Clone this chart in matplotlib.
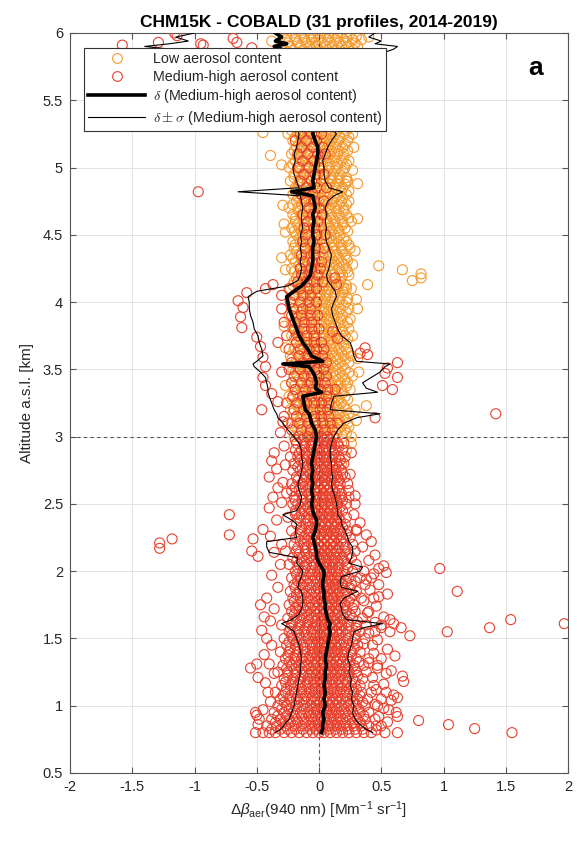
import matplotlib
matplotlib.use("Agg")  # no display
import matplotlib.pyplot as plt
from matplotlib.lines import Line2D

plt.rcParams["font.family"] = ["Liberation Sans", "DejaVu Sans"]
plt.rcParams["mathtext.fontset"] = "custom"
plt.rcParams["mathtext.rm"] = "Liberation Sans"
plt.rcParams["mathtext.it"] = "Liberation Sans:italic"
plt.rcParams["mathtext.bf"] = "Liberation Sans:bold"

ORANGE = "#F59A2E"
RED = "#E8402C"
AXIS_GREY = "#555555"
TEXT_DARK = "#262626"

# ---- mean profile and +/- sigma (medium-high aerosol content), km / Mm-1 sr-1
PROF_ALT = [0.80, 0.83, 0.86, 0.90, 0.95, 1.00, 1.05, 1.10, 1.15, 1.20, 1.25, 1.30,
            1.35, 1.40, 1.45, 1.50, 1.55, 1.58, 1.61, 1.64, 1.68, 1.72, 1.76, 1.80,
            1.85, 1.88, 1.92, 1.96, 2.00, 2.03, 2.06, 2.10, 2.14, 2.18, 2.22, 2.25,
            2.30, 2.35, 2.38, 2.42, 2.45, 2.50, 2.55, 2.60, 2.65, 2.70, 2.75, 2.80,
            2.85, 2.90, 2.95, 3.00, 3.05, 3.10, 3.14, 3.17, 3.20, 3.25, 3.30, 3.33,
            3.36, 3.40, 3.44, 3.48, 3.52, 3.54, 3.56, 3.60, 3.65, 3.70, 3.75, 3.80,
            3.85, 3.90, 3.95, 4.00, 4.04, 4.08, 4.12, 4.16, 4.20, 4.25, 4.30, 4.35,
            4.40, 4.45, 4.50, 4.55, 4.60, 4.65, 4.70, 4.75, 4.79, 4.82, 4.85, 4.90,
            4.95, 5.00, 5.05, 5.10, 5.15, 5.20, 5.25, 5.30, 5.40, 5.50, 5.60, 5.70,
            5.80, 5.88, 5.90, 5.92, 5.94, 5.97, 6.00]
PROF_DELTA = [0.02, 0.03, 0.03, 0.04, 0.03, 0.05, 0.04, 0.05, 0.04, 0.05, 0.05, 0.06,
              0.05, 0.06, 0.07, 0.08, 0.09, 0.08, 0.09, 0.07, 0.06, 0.05, 0.05, 0.04,
              0.04, 0.03, 0.03, 0.04, 0.04, 0.02, 0.00, -0.02, -0.02, -0.03, -0.04, -0.05,
              -0.03, -0.02, -0.02, -0.04, -0.05, -0.06, -0.05, -0.06, -0.05, -0.06, -0.05, -0.06,
              -0.05, -0.04, -0.03, -0.02, -0.03, -0.06, -0.07, -0.08, -0.11, -0.12, -0.13, 0.02,
              -0.03, -0.02, -0.03, -0.05, -0.08, -0.29, 0.03, -0.06, -0.09, -0.13, -0.16, -0.18,
              -0.20, -0.22, -0.24, -0.25, -0.26, -0.20, -0.14, -0.10, -0.07, -0.06, -0.05, -0.05,
              -0.05, -0.04, -0.05, -0.05, -0.04, -0.05, -0.03, -0.04, -0.05, -0.22, -0.04, -0.05,
              -0.04, -0.03, -0.02, -0.01, -0.01, -0.03, -0.05, -0.04, -0.05, -0.06, -0.10, -0.15,
              -0.25, -0.30, -0.36, -0.26, -0.35, -0.30, -0.35]
PROF_LOWER = [-0.35, -0.30, -0.28, -0.24, -0.22, -0.20, -0.19, -0.18, -0.17, -0.16, -0.15, -0.15,
              -0.14, -0.15, -0.16, -0.18, -0.20, -0.24, -0.30, -0.22, -0.16, -0.14, -0.13, -0.13,
              -0.14, -0.17, -0.16, -0.14, -0.13, -0.15, -0.18, -0.17, -0.40, -0.42, -0.42, -0.18,
              -0.19, -0.18, -0.22, -0.29, -0.18, -0.15, -0.14, -0.16, -0.17, -0.15, -0.14, -0.13,
              -0.14, -0.14, -0.16, -0.20, -0.25, -0.29, -0.33, -0.34, -0.36, -0.38, -0.40, -0.41,
              -0.41, -0.42, -0.43, -0.47, -0.52, -0.53, -0.50, -0.45, -0.46, -0.48, -0.49, -0.52,
              -0.53, -0.55, -0.56, -0.56, -0.57, -0.50, -0.25, -0.17, -0.15, -0.14, -0.15, -0.14,
              -0.15, -0.14, -0.15, -0.13, -0.14, -0.14, -0.13, -0.14, -0.15, -0.65, -0.16, -0.18,
              -0.20, -0.21, -0.19, -0.20, -0.18, -0.17, -0.16, -0.18, -0.20, -0.22, -0.35, -0.50,
              -0.80, -1.20, -1.40, -1.20, -1.05, -1.15, -1.00]
PROF_UPPER = [0.43, 0.37, 0.33, 0.29, 0.27, 0.28, 0.26, 0.27, 0.25, 0.26, 0.24, 0.25,
              0.23, 0.24, 0.26, 0.27, 0.28, 0.36, 0.51, 0.22, 0.19, 0.18, 0.17, 0.20,
              0.31, 0.18, 0.17, 0.18, 0.33, 0.35, 0.24, 0.26, 0.27, 0.27, 0.24, 0.23,
              0.21, 0.18, 0.18, 0.15, 0.15, 0.14, 0.13, 0.11, 0.10, 0.11, 0.10, 0.10,
              0.09, 0.09, 0.10, 0.12, 0.15, 0.20, 0.30, 0.49, 0.09, 0.10, 0.12, 0.47,
              0.38, 0.35, 0.42, 0.49, 0.53, 0.57, 0.30, 0.28, 0.27, 0.25, 0.18, 0.15,
              0.13, 0.11, 0.10, 0.12, 0.14, 0.13, 0.10, 0.07, 0.06, 0.08, 0.09, 0.10,
              0.08, 0.06, 0.05, 0.06, 0.05, 0.06, 0.05, 0.07, 0.12, 0.19, 0.08, 0.05,
              0.04, 0.04, 0.03, 0.05, 0.07, 0.10, 0.14, 0.10, 0.12, 0.14, 0.15, 0.20,
              0.35, 0.60, 0.63, 0.45, 0.50, 0.40, 0.45]

# ---- individual points, one row per altitude level (x in 0.01 Mm-1 sr-1)
RED_ROWS_LOW = [
    (0.80, [-45, -40, -35, -28, -22, -16, -10, -5, 0, 4, 9, 14, 19, 24, 30, 36, 42]),
    (0.85, [-42, -34, -27, -20, -14, -8, -3, 2, 7, 12, 17, 22, 28, 34, 40, 46]),
    (0.90, [-38, -31, -24, -18, -12, -6, -1, 4, 9, 14, 19, 25, 31, 37, 45]),
    (0.95, [-36, -28, -21, -15, -9, -4, 1, 6, 11, 16, 21, 27, 33, 40]),
    (1.00, [-33, -26, -19, -13, -7, -2, 3, 8, 13, 18, 24, 30, 37, 47]),
    (1.05, [-31, -24, -18, -12, -6, -1, 4, 9, 14, 19, 25, 31, 39]),
    (1.10, [-35, -27, -20, -14, -8, -3, 2, 7, 12, 17, 22, 28, 34, 42]),
    (1.15, [-30, -23, -17, -11, -5, 0, 5, 10, 15, 20, 26, 33, 44]),
    (1.20, [-28, -21, -15, -9, -4, 1, 6, 11, 16, 21, 27, 35]),
    (1.25, [-33, -25, -18, -12, -6, -1, 4, 9, 14, 19, 24, 30, 38]),
    (1.30, [-29, -22, -16, -10, -4, 1, 6, 11, 16, 22, 28, 36, 47]),
    (1.35, [-27, -20, -14, -8, -3, 2, 7, 12, 17, 23, 30, 40]),
    (1.40, [-31, -24, -17, -11, -5, 0, 5, 10, 15, 20, 26, 33]),
    (1.45, [-26, -19, -13, -7, -2, 3, 8, 13, 18, 24, 31, 43]),
    (1.50, [-28, -21, -15, -9, -3, 2, 7, 12, 17, 23, 29, 37]),
    (1.55, [-24, -18, -12, -6, -1, 4, 9, 14, 19, 25, 33, 45]),
    (1.60, [-30, -22, -15, -9, -3, 2, 8, 13, 18, 24, 30, 38, 50]),
    (1.65, [-25, -18, -12, -6, -1, 4, 9, 14, 20, 27, 35]),
    (1.70, [-22, -16, -10, -4, 1, 6, 11, 16, 22, 29, 40]),
    (1.75, [-24, -17, -11, -5, 0, 5, 10, 15, 21, 28]),
    (1.80, [-21, -15, -9, -3, 2, 7, 12, 18, 25, 34, 44]),
    (1.85, [-23, -16, -10, -4, 1, 6, 11, 16, 22, 30]),
    (1.90, [-20, -14, -8, -2, 3, 8, 13, 19, 26, 37]),
    (1.95, [-22, -15, -9, -3, 2, 7, 12, 17, 24, 33, 42]),
    (2.00, [-19, -13, -7, -1, 4, 9, 14, 20, 27, 36]),
    (2.05, [-24, -16, -10, -4, 1, 6, 11, 16, 22, 30]),
    (2.10, [-21, -14, -8, -2, 3, 8, 13, 19, 26]),
    (2.15, [-27, -18, -11, -5, 0, 5, 10, 15, 21, 29]),
    (2.20, [-30, -20, -12, -6, -1, 4, 9, 14, 20, 27]),
    (2.25, [-19, -12, -6, -1, 4, 9, 14, 19, 25]),
    (2.30, [-22, -14, -8, -3, 2, 7, 12, 17, 23, 30]),
    (2.35, [-18, -11, -5, 0, 5, 10, 15, 21]),
    (2.40, [-25, -16, -10, -4, 1, 6, 11, 16, 22]),
    (2.45, [-19, -12, -6, -1, 4, 9, 14, 19]),
    (2.50, [-21, -17, -11, -5, 0, 5, 10, 15, 22, 29]),
    (2.55, [-20, -13, -7, -2, 3, 8, 13, 18, 24]),
    (2.60, [-22, -16, -10, -4, 1, 6, 11, 16, 24]),
    (2.65, [-22, -14, -8, -3, 2, 7, 12, 17, 23]),
    (2.70, [-18, -11, -5, 0, 5, 10, 15, 21]),
    (2.75, [-21, -15, -9, -3, 2, 7, 12, 18]),
    (2.80, [-20, -12, -6, -1, 4, 9, 14, 20]),
    (2.85, [-23, -17, -10, -4, 1, 6, 11, 16, 21]),
    (2.90, [-19, -14, -8, -2, 3, 8, 13, 19]),
    (2.95, [-18, -11, -5, 0, 5, 10, 15, 20]),
    (3.00, [-16, -9, -3, 2, 7, 12]),
]

# in-between levels of the dense lower core
RED_ROWS_MID = [
    (0.825, [-38, -31, -25, -19, -13, -7, -2, 3, 8, 13, 18, 23, 29, 35]),
    (0.875, [-35, -29, -23, -17, -11, -5, 0, 5, 10, 15, 21, 27, 33]),
    (0.925, [-33, -26, -20, -14, -8, -3, 2, 7, 12, 17, 23, 29, 36]),
    (0.975, [-30, -24, -18, -12, -6, -1, 4, 9, 14, 20, 26, 32]),
    (1.025, [-28, -22, -16, -10, -4, 1, 6, 11, 16, 22, 28, 35]),
    (1.075, [-29, -23, -17, -11, -5, 0, 5, 10, 15, 21, 27, 33]),
    (1.125, [-26, -20, -14, -8, -3, 2, 7, 12, 18, 24, 30]),
    (1.175, [-27, -21, -15, -9, -4, 1, 6, 11, 16, 22, 29]),
    (1.225, [-25, -19, -13, -7, -2, 3, 8, 13, 18, 24, 31]),
    (1.275, [-26, -20, -14, -8, -3, 2, 7, 12, 17, 23, 29]),
    (1.325, [-24, -18, -12, -6, -1, 4, 9, 14, 19, 25, 32]),
    (1.375, [-25, -19, -13, -7, -2, 3, 8, 13, 19, 26]),
    (1.425, [-23, -17, -11, -5, 0, 5, 10, 15, 21, 28]),
    (1.475, [-24, -18, -12, -6, -1, 4, 9, 14, 20, 27]),
    (1.525, [-22, -16, -10, -4, 1, 6, 11, 16, 22, 29]),
    (1.575, [-23, -17, -11, -5, 0, 5, 10, 16, 22, 30]),
    (1.625, [-21, -15, -9, -3, 2, 7, 12, 17, 23, 31]),
    (1.675, [-20, -14, -8, -2, 3, 8, 13, 19, 25]),
    (1.725, [-19, -13, -7, -1, 4, 9, 14, 20, 27]),
    (1.775, [-20, -14, -8, -2, 3, 8, 13, 18, 24]),
    (1.825, [-18, -12, -6, 0, 5, 10, 15, 21, 28]),
    (1.875, [-19, -13, -7, -1, 4, 9, 14, 19, 25]),
    (1.925, [-17, -11, -5, 1, 6, 11, 16, 22, 29]),
    (1.975, [-18, -12, -6, 0, 5, 10, 15, 21]),
    (2.025, [-17, -11, -5, 1, 6, 11, 16, 23]),
    (2.075, [-18, -12, -6, 0, 5, 10, 15, 20]),
    (2.125, [-16, -10, -4, 2, 7, 12, 17, 24]),
    (2.175, [-17, -11, -5, 1, 6, 11, 16, 21]),
    (2.225, [-15, -9, -3, 2, 7, 12, 18]),
    (2.275, [-16, -10, -4, 1, 6, 11, 16, 22]),
    (2.325, [-14, -8, -2, 3, 8, 13, 19]),
    (2.375, [-15, -9, -3, 2, 7, 12, 17]),
    (2.425, [-19, -14, -8, -2, 3, 8, 14]),
    (2.475, [-15, -9, -3, 2, 7, 12, 17]),
    (2.525, [-19, -13, -7, -1, 4, 9, 14, 19]),
    (2.575, [-14, -8, -2, 3, 8, 13, 18]),
    (2.625, [-19, -13, -7, -1, 4, 9, 15]),
    (2.675, [-17, -12, -6, 0, 5, 10, 16]),
    (2.725, [-13, -7, -1, 4, 9, 14, 19]),
    (2.775, [-17, -11, -5, 1, 6, 11, 16]),
    (2.825, [-15, -12, -6, 0, 5, 10, 17]),
    (2.875, [-16, -11, -5, 1, 6, 12]),
    (2.925, [-12, -6, 0, 5, 10, 16]),
    (2.975, [-19, -13, -7, -1, 4, 9]),
]

RED_ROWS_HIGH = [
    (3.05, [-22, -14, -7, -1, 5, 11]),
    (3.10, [-25, -16, -9, -3, 3, 9, 15]),
    (3.15, [-28, -18, -10, -4, 2, 8]),
    (3.20, [-20, -12, -5, 1, 7]),
    (3.25, [-26, -17, -10, -4, 2, 8]),
    (3.30, [-21, -13, -6, 0, 6]),
    (3.35, [-19, -11, -5, 1, 7, 13]),
    (3.40, [-22, -14, -7, -1, 5]),
    (3.45, [-20, -12, -6, 0, 6]),
    (3.50, [-24, -15, -8, -2, 4]),
    (3.55, [-22, -13, -6, 0, 6]),
    (3.60, [-16, -9, -3, 3]),
    (3.65, [-24, -15, -8, -2, 4]),
    (3.70, [-18, -10, -4, 2]),
    (3.75, [-26, -17, -10, -4]),
    (3.80, [-20, -12, -6, 0]),
    (3.85, [-28, -19, -12, -6]),
    (3.90, [-22, -14, -7, -1]),
    (3.95, [-30, -21, -13, -7]),
    (4.00, [-23, -15, -8, -2]),
    (4.05, [-30, -20, -13, -7]),
    (4.10, [-24, -15, -8, -2]),
    (4.15, [-17, -10, -4, 3]),
    (4.20, [-14, -8, -1]),
    (4.25, [-15, -6, 1]),
    (4.30, [-12, -5, 2]),
    (4.35, [-14, -4]),
    (4.40, [-11, -3, 4]),
    (4.45, [-13, -5]),
    (4.50, [-10, -2, 5]),
    (4.55, [-12, -4]),
    (4.60, [-9, -1]),
    (4.65, [-13, -5, 3]),
    (4.70, [-8, 0]),
    (4.75, [-11, -4, 4]),
    (4.80, [-14, -5]),
    (4.85, [-10, -2, 6]),
    (4.90, [-15, -6]),
    (4.95, [-12, -3, 4]),
    (5.00, [-16, -8, 0]),
    (5.05, [-13, -4]),
    (5.10, [-17, -9, -1, 5]),
    (5.15, [-14, -5, 3]),
    (5.20, [-19, -10, -2]),
    (5.25, [-15, -6, 2]),
]

ORANGE_ROWS_LOW = [
    (1.30, [-2, 9]), (1.40, [3, 12]), (1.50, [0, 10]), (1.60, [5, 14]),
    (1.70, [-3, 8]), (1.80, [2, 11]), (1.90, [6, 15]), (2.00, [-1, 9]),
    (2.10, [4, 13]), (2.20, [0, 10]), (2.30, [5, 12]), (2.40, [-4, 8]),
    (2.50, [2, 11]), (2.60, [-2, 7]), (2.70, [3, 12]), (2.80, [-1, 9, 18]),
    (2.90, [4, 13, 22]), (2.95, [-6, 10, 26]),
]

ORANGE_ROWS = [
    (3.00, [-20, -12, -7, -1, 6, 11, 19, 26]),
    (3.05, [-17, -10, -4, 2, 8, 15, 21]),
    (3.10, [-22, -15, -8, -3, 4, 10, 17, 23]),
    (3.15, [-18, -13, -5, 1, 7, 13, 20]),
    (3.20, [-23, -16, -9, -2, 3, 9, 16, 22, 29]),
    (3.25, [-19, -12, -6, 0, 6, 12, 18]),
    (3.30, [-24, -15, -10, -4, 2, 9, 14, 21]),
    (3.35, [-20, -13, -6, 1, 7, 11, 18, 25]),
    (3.40, [-22, -14, -8, -3, 4, 10, 17, 23]),
    (3.45, [-17, -11, -5, 0, 5, 13, 19, 27]),
    (3.50, [-21, -16, -9, -2, 3, 8, 15, 21]),
    (3.55, [-19, -12, -6, -1, 6, 11, 17, 24]),
    (3.60, [-23, -15, -10, -4, 2, 7, 13, 20, 26]),
    (3.65, [-20, -13, -7, -1, 4, 10, 16, 22]),
    (3.70, [-18, -11, -6, 1, 7, 12, 19]),
    (3.75, [-22, -16, -9, -3, 3, 9, 14, 21, 27]),
    (3.80, [-19, -12, -5, 0, 6, 11, 18, 24]),
    (3.85, [-21, -14, -8, -2, 4, 10, 16, 23]),
    (3.90, [-24, -17, -10, -5, 2, 8, 13, 19]),
    (3.95, [-18, -13, -6, 0, 5, 11, 17, 24]),
    (4.00, [-22, -15, -9, -2, 3, 9, 16, 22]),
    (4.05, [-19, -11, -6, 1, 6, 12, 18]),
    (4.10, [-23, -16, -9, -4, 3, 8, 14, 20, 26]),
    (4.15, [-20, -14, -7, -1, 5, 10, 17]),
    (4.20, [-17, -12, -5, 1, 6, 12, 19, 24]),
    (4.25, [-22, -15, -8, -2, 4, 11, 16, 22]),
    (4.30, [-19, -13, -6, 0, 7, 12, 18]),
    (4.35, [-23, -16, -10, -3, 3, 9, 14, 21]),
    (4.40, [-20, -12, -7, 0, 5, 11, 18, 25]),
    (4.45, [-21, -15, -8, -2, 4, 10, 16, 22]),
    (4.50, [-18, -13, -6, -1, 6, 12, 17]),
    (4.55, [-22, -16, -9, -3, 2, 9, 15, 21]),
    (4.60, [-19, -12, -5, 1, 7, 13, 19, 26]),
    (4.65, [-21, -14, -8, -2, 3, 10, 16, 22]),
    (4.70, [-24, -17, -11, -4, 2, 8, 13, 20]),
    (4.75, [-18, -12, -6, 0, 6, 11, 18, 24]),
    (4.80, [-21, -15, -8, -3, 4, 9, 15, 22]),
    (4.85, [-19, -11, -5, 1, 7, 13, 19]),
    (4.90, [-23, -16, -9, -2, 3, 10, 16, 23]),
    (4.95, [-20, -13, -7, -1, 5, 11, 17]),
    (5.00, [-24, -17, -10, -4, 2, 8, 14, 21]),
    (5.05, [-19, -13, -6, 0, 6, 12, 18, 24]),
    (5.10, [-22, -15, -9, -3, 3, 9, 15, 20]),
    (5.15, [-18, -12, -5, 1, 7, 13, 19]),
    (5.20, [-21, -14, -8, -2, 4, 10, 16, 23]),
    (5.25, [-25, -17, -11, -4, 2, 8, 13, 20, 27]),
    (5.30, [-20, -13, -7, -1, 5, 11, 18]),
    (5.40, [-22, -15, -8, -2, 4, 10, 17]),
    (5.50, [-21, -14, -8, -1, 5, 12, 19]),
    (5.60, [-23, -16, -9, -3, 3, 10, 16]),
    (5.70, [-22, -15, -8, -2, 4, 11, 18]),
    (5.80, [-24, -17, -10, -3, 3, 10, 17, 24]),
    (5.85, [-26, -18, -11, -4, 2, 9, 16, 23]),
    (5.90, [-30, -23, -15, -8, -2, 5, 11, 18, 24, 31]),
    (5.95, [-27, -19, -12, -6, 0, 7, 13, 20, 27, 34]),
    (6.00, [-29, -21, -14, -7, -1, 5, 12, 18, 25]),
]

# in-between levels of the dense upper core
ORANGE_ROWS_MID = [
    (3.025, [-16, -9, -4, 3, 9, 14, 22]),
    (3.075, [-20, -13, -7, -1, 5, 12, 18, 24]),
    (3.125, [-15, -10, -3, 3, 10, 16, 21]),
    (3.175, [-21, -14, -8, -1, 5, 11, 17, 24]),
    (3.225, [-17, -11, -4, 2, 8, 14, 20]),
    (3.275, [-22, -13, -8, -2, 4, 10, 16, 23]),
    (3.325, [-18, -12, -5, 1, 7, 13, 19]),
    (3.375, [-20, -15, -9, -2, 3, 9, 15, 22]),
    (3.425, [-16, -10, -4, 3, 8, 15, 21]),
    (3.475, [-19, -13, -7, -1, 6, 11, 17, 24]),
    (3.525, [-17, -11, -5, 1, 7, 13, 19]),
    (3.575, [-22, -15, -9, -3, 3, 9, 15, 21]),
    (3.625, [-18, -12, -6, 0, 6, 11, 18, 23]),
    (3.675, [-16, -9, -3, 3, 9, 14, 20]),
    (3.725, [-20, -14, -8, -2, 4, 10, 17, 23]),
    (3.775, [-17, -10, -4, 2, 8, 14, 19]),
    (3.825, [-22, -16, -10, -3, 2, 8, 13, 20]),
    (3.875, [-18, -12, -5, 1, 7, 12, 18, 25]),
    (3.925, [-20, -14, -8, -2, 4, 10, 16, 22]),
    (3.975, [-16, -10, -4, 2, 8, 13, 20]),
    (4.025, [-20, -13, -7, -1, 5, 11, 17, 23]),
    (4.075, [-17, -11, -5, 1, 7, 13, 20]),
    (4.125, [-21, -15, -8, -2, 4, 10, 16, 22]),
    (4.175, [-18, -12, -6, 0, 6, 12, 18]),
    (4.225, [-20, -13, -7, -1, 5, 10, 17, 23]),
    (4.275, [-16, -10, -4, 2, 8, 14, 20]),
    (4.325, [-21, -14, -8, -2, 4, 10, 16, 22]),
    (4.375, [-18, -11, -5, 1, 7, 13, 19]),
    (4.425, [-19, -13, -7, -1, 5, 12, 18, 24]),
    (4.475, [-16, -10, -4, 2, 8, 14, 20]),
    (4.525, [-20, -14, -8, -2, 4, 10, 16, 23]),
    (4.575, [-17, -11, -5, 1, 7, 12, 19]),
    (4.625, [-19, -13, -7, -1, 5, 11, 17, 24]),
    (4.675, [-16, -10, -4, 2, 8, 14, 20]),
    (4.725, [-21, -14, -8, -2, 4, 10, 16, 22]),
    (4.775, [-17, -11, -5, 1, 7, 13, 19]),
    (4.825, [-19, -13, -7, -1, 5, 11, 18, 24]),
    (4.875, [-16, -10, -4, 2, 8, 14, 21]),
    (4.925, [-20, -14, -8, -2, 4, 10, 16, 22]),
    (4.975, [-17, -11, -5, 1, 7, 13, 19]),
    (5.025, [-21, -15, -9, -3, 3, 9, 15, 22]),
    (5.075, [-17, -11, -5, 1, 7, 13, 20]),
    (5.125, [-20, -14, -8, -2, 4, 10, 16, 23]),
    (5.175, [-16, -10, -4, 2, 8, 14, 21]),
    (5.225, [-19, -13, -7, -1, 5, 11, 17, 24]),
    (5.275, [-22, -15, -9, -3, 3, 9, 15, 22]),
    (5.875, [-28, -21, -13, -6, 0, 7, 14, 21, 28]),
    (5.925, [-25, -17, -10, -3, 3, 9, 16, 22, 29]),
    (5.975, [-26, -19, -12, -5, 1, 8, 15, 22, 30]),
]

# ---- scattered points away from the core: (altitude km, value)
RED_SCATTER = [
    # far left, 0.8-2.5 km
    (2.21, -1.28), (2.17, -1.28), (2.24, -1.18), (2.42, -0.72), (2.27, -0.72),
    (2.24, -0.53), (2.15, -0.54), (2.11, -0.49), (1.75, -0.47), (1.28, -0.55),
    (1.31, -0.50), (1.21, -0.49), (0.95, -0.51), (0.93, -0.50), (0.86, -0.49),
    (0.80, -0.51),
    # left edge of the core
    (2.88, -0.36), (2.82, -0.38), (2.76, -0.34), (2.70, -0.40), (2.62, -0.33),
    (2.55, -0.37), (2.47, -0.40), (2.38, -0.34), (2.31, -0.45), (2.26, -0.39),
    (2.14, -0.36), (2.05, -0.31), (1.97, -0.38), (1.88, -0.33), (1.80, -0.42),
    (1.72, -0.36), (1.66, -0.44), (1.63, -0.39), (1.56, -0.46), (1.50, -0.42),
    (1.45, -0.38), (1.38, -0.44), (1.31, -0.40), (1.24, -0.36), (1.17, -0.43),
    (1.10, -0.41), (1.03, -0.39), (0.97, -0.45), (0.90, -0.48),
    (2.93, -0.28), (2.79, -0.27), (2.66, -0.29), (2.58, -0.26), (2.51, -0.30),
    # right edge of the core
    (2.42, 0.28), (2.36, 0.33), (2.31, 0.30), (2.27, 0.38), (2.22, 0.42),
    (2.18, 0.35), (2.12, 0.45), (2.08, 0.40), (2.04, 0.52), (1.98, 0.44),
    (1.94, 0.38), (1.90, 0.48), (1.86, 0.41), (1.83, 0.55), (1.78, 0.36),
    (1.74, 0.46), (1.69, 0.39), (1.66, 0.52), (1.62, 0.45), (1.58, 0.50),
    (1.54, 0.40), (1.49, 0.47), (1.46, 0.36), (1.42, 0.55), (1.39, 0.44),
    (1.35, 0.50), (1.32, 0.40), (1.28, 0.47), (1.26, 0.58), (1.21, 0.43),
    (1.16, 0.52), (1.12, 0.46), (1.08, 0.60), (1.05, 0.50), (1.01, 0.45),
    (0.98, 0.52), (0.95, 0.62), (0.92, 0.48), (0.88, 0.55), (0.85, 0.50),
    (0.82, 0.46), (2.88, 0.26), (2.72, 0.25), (2.56, 0.29),
    # far right, 0.8-2.1 km
    (2.02, 0.97), (1.85, 1.11), (1.64, 1.54), (1.58, 1.37), (1.61, 1.97),
    (1.55, 1.03), (1.52, 0.73), (1.58, 0.66), (1.64, 0.57), (1.61, 0.60),
    (1.55, 0.57), (1.99, 0.54), (2.02, 0.48), (1.81, 0.48), (0.89, 0.80),
    (0.86, 1.04), (0.83, 1.25), (0.80, 1.55), (0.80, 0.63), (0.80, 0.53),
    (0.92, 0.63), (1.22, 0.67), (1.18, 0.68), (1.06, 0.63), (1.04, 0.58),
    (0.97, 0.56), (1.10, 0.54), (1.37, 0.61), (1.24, 0.54),
    # 3-4 km lobes
    (4.07, -0.58), (4.01, -0.65), (3.96, -0.61), (3.89, -0.63), (3.81, -0.62),
    (4.13, -0.37), (4.10, -0.43), (3.74, -0.50), (3.67, -0.47), (3.59, -0.45),
    (3.52, -0.43), (3.44, -0.45), (3.38, -0.43), (3.32, -0.38), (3.20, -0.46),
    (3.26, -0.33), (3.11, -0.29), (3.03, -0.31), (3.55, 0.63), (3.44, 0.63),
    (3.51, 0.55), (3.47, 0.53), (3.35, 0.59), (3.38, 0.51), (3.66, 0.37),
    (3.62, 0.33), (3.61, 0.39), (3.14, 0.45), (4.18, 0.13), (4.13, 0.14),
    (3.78, 0.11), (3.73, 0.15), (3.17, 1.42), (3.70, -0.33), (3.48, -0.30),
    # isolated upper points
    (4.82, -0.97), (5.91, -1.58), (5.93, -1.29), (6.00, -1.16), (5.98, -1.14),
    (5.91, -0.93), (5.96, -0.69), (5.93, -0.66), (5.89, -0.54), (5.92, -0.95),
]

ORANGE_SCATTER = [
    (4.27, 0.48), (4.24, 0.67), (4.16, 0.75), (4.21, 0.82), (4.18, 0.82),
    (4.13, 0.39), (4.10, 0.22), (4.31, 0.23), (4.52, -0.27), (4.33, -0.30),
    (4.24, -0.27), (3.23, 0.38), (3.12, 0.30), (3.38, -0.27), (3.58, 0.31),
    (3.82, -0.28), (4.02, 0.30), (4.38, 0.29), (4.58, -0.28), (4.62, 0.31),
    (4.88, 0.31), (4.90, 0.22), (5.02, -0.30), (5.09, -0.39), (5.26, -0.45),
    (5.24, 0.06), (5.15, 0.28), (4.98, 0.27), (4.72, -0.29), (4.28, 0.27),
    (3.95, 0.31), (3.66, -0.27), (3.48, 0.32), (5.94, -0.38), (5.97, 0.40),
]

X_TICKS = [-2, -1.5, -1, -0.5, 0, 0.5, 1, 1.5, 2]
Y_TICKS = [0.5, 1, 1.5, 2, 2.5, 3, 3.5, 4, 4.5, 5, 5.5, 6]


def rows_to_xy(rows):
    """Flatten (altitude, [x*100, ...]) rows into x and y lists."""
    xs, ys = [], []
    for alt, vals in rows:
        xs += [v / 100 for v in vals]
        ys += [alt] * len(vals)
    return xs, ys


def pairs_to_xy(pairs):
    return [p[1] for p in pairs], [p[0] for p in pairs]


fig = plt.figure(figsize=(5.77, 8.43), dpi=100)
fig.patch.set_facecolor("white")
ax = fig.add_axes([70 / 577, 70 / 843, 498 / 577, 740 / 843])

circle_kw = dict(s=52, facecolors="none", linewidths=0.8)

for rows in (ORANGE_ROWS_LOW, ORANGE_ROWS, ORANGE_ROWS_MID):
    x, y = rows_to_xy(rows)
    ax.scatter(x, y, edgecolors=ORANGE, zorder=2, **circle_kw)
x, y = pairs_to_xy(ORANGE_SCATTER)
ax.scatter(x, y, edgecolors=ORANGE, zorder=2, **circle_kw)

for rows in (RED_ROWS_LOW, RED_ROWS_MID, RED_ROWS_HIGH):
    x, y = rows_to_xy(rows)
    ax.scatter(x, y, edgecolors=RED, zorder=3, **circle_kw)
x, y = pairs_to_xy(RED_SCATTER)
ax.scatter(x, y, edgecolors=RED, zorder=3, **circle_kw)

ax.axvline(0, color=AXIS_GREY, lw=0.8, ls=(0, (3, 3)), zorder=4)
ax.axhline(3, color=AXIS_GREY, lw=0.8, ls=(0, (3, 3)), zorder=4)

ax.plot(PROF_LOWER, PROF_ALT, color="black", lw=0.8, zorder=5)
ax.plot(PROF_UPPER, PROF_ALT, color="black", lw=0.8, zorder=5)
ax.plot(PROF_DELTA, PROF_ALT, color="black", lw=2.6, zorder=6)

ax.set_xlim(-2, 2)
ax.set_ylim(0.5, 6)
ax.set_xticks(X_TICKS, [f"{v:g}" for v in X_TICKS])
ax.set_yticks(Y_TICKS, [f"{v:g}" for v in Y_TICKS])
ax.grid(True, color="#e4e4e4", lw=0.7)
ax.set_axisbelow(True)
ax.tick_params(direction="in", top=True, right=True, length=4, width=0.8,
               color=AXIS_GREY, labelsize=10.5, labelcolor=TEXT_DARK, pad=5)
for spine in ax.spines.values():
    spine.set_color(AXIS_GREY)
    spine.set_linewidth(0.8)

ax.set_title("CHM15K - COBALD (31 profiles, 2014-2019)", fontsize=12.5,
             fontweight="bold", pad=4, color="black")
ax.set_xlabel(r"$\Delta\beta_{\mathrm{aer}}$(940 nm) [Mm$^{-1}$ sr$^{-1}$]",
              fontsize=11, color=TEXT_DARK, labelpad=4)
ax.set_ylabel("Altitude a.s.l. [km]", fontsize=11, color=TEXT_DARK, labelpad=6)
ax.text(0.934, 0.953, "a", transform=ax.transAxes, fontsize=19,
        fontweight="bold", ha="center", va="center", zorder=8)

handles = [
    Line2D([], [], ls="none", marker="o", ms=7, mfc="none", mec=ORANGE, mew=0.8),
    Line2D([], [], ls="none", marker="o", ms=7, mfc="none", mec=RED, mew=0.8),
    Line2D([], [], color="black", lw=2.6),
    Line2D([], [], color="black", lw=0.8),
]
labels = [
    "Low aerosol content",
    "Medium-high aerosol content",
    r"$\delta$ (Medium-high aerosol content)",
    r"$\delta \pm \sigma$ (Medium-high aerosol content)",
]
leg = ax.legend(handles, labels, loc="upper left", bbox_to_anchor=(0.028, 0.98),
                borderaxespad=0, fontsize=10.3, handlelength=4, handletextpad=0.5,
                labelspacing=0.25, borderpad=0.3, fancybox=False,
                edgecolor="#333333", framealpha=1)
leg.get_frame().set_linewidth(0.8)
leg.set_zorder(7)
for t in leg.get_texts():
    t.set_math_fontfamily("cm")
    t.set_color(TEXT_DARK)

fig.savefig("out.png", dpi=100, facecolor="white")
